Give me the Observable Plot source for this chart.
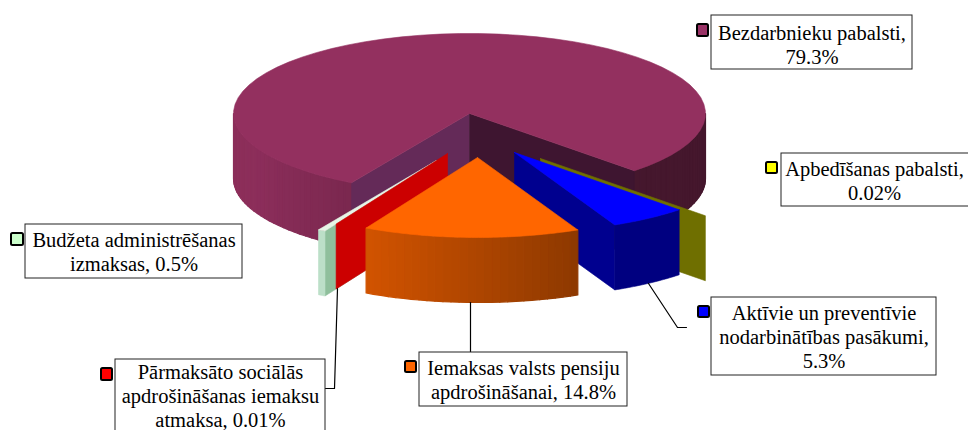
<!DOCTYPE html>
<html><head><meta charset="utf-8">
<script src="https://cdn.jsdelivr.net/npm/d3@7"></script>
<script src="https://cdn.jsdelivr.net/npm/@observablehq/plot@0.6"></script>
<style>html,body{margin:0;padding:0;background:#fff;overflow:hidden}</style>
</head><body><div id="chart"></div>
<script>
// data
const names = ["Bezdarbnieku pabalsti","Apbedīšanas pabalsti","Aktīvie un preventīvie\nnodarbinātības pasākumi","Iemaksas valsts pensiju\napdrošināšanai","Pārmaksāto sociālās\napdrošināšanas iemaksu\natmaksa","Budžeta administrēšanas\nizmaksas"];
const values = [79.3, 0.02, 5.3, 14.8, 0.01, 0.5];
const separators = [",\n", ",\n", ",\n", ", ", ", ", ", "];
const colors = ["#93305f","#808000","#0000ff","#ff6600","#cc0000","#ccffcc"];
const markerColors = ["#993366","#ffff00","#0000ff","#ff6600","#ff0000","#ccffcc"];

// layout
const W = 968, H = 430;
const pieCenter = [469, 113], rx = 236, ry = 80, depth = 65, firstAngle = 210;
const explode = [[0,0],[71,45],[45,39],[8,44],[-22,40],[-33,47]];
const boxes = [[711,912,15,69],[781,972,153,206],[711,936,297,375],[419,627,352,406],[115,325,359,445],[25,242,224,278]];
const boxTextY = [44,180,336,379,395,251];
const markerBoxes = [[697,708,24,36],[766,777,162,173],[698,709,306,317],[405,416,361,372],[101,112,368,380],[11,23,233,245]];
const leaders = [
  [[648,283],[677,327],[686,327]],
  [[470,302],[470,352]],
  [[337,288],[334,388],[325,388]]
];

const rad = d => d * Math.PI / 180;
const arcs = d3.pie().sort(null).startAngle(rad(firstAngle)).endAngle(rad(firstAngle + 360))(values);
const shade = (base, u) => d3.interpolateRgb("#000", base)(Math.min(.95, Math.max(.47, .68 - .3 * u)));
const pos = (i, a, dz = 0) => [pieCenter[0] + explode[i][0] + rx * Math.sin(a), pieCenter[1] + explode[i][1] - ry * Math.cos(a) + dz];
const tip = (i, dz = 0) => [pieCenter[0] + explode[i][0], pieCenter[1] + explode[i][1] + dz];
const poly = (pts, c, sw = .6) => Plot.line([...pts, pts[0]], {x: d => d[0], y: d => d[1], fill: c, stroke: c, strokeWidth: sw, strokeLinejoin: "round"});
const arcPts = (i, a0, a1) => d3.range(0, 61).map(k => pos(i, a0 + (a1 - a0) * k / 60));
const topFace = (i, c) => poly([tip(i), ...arcPts(i, arcs[i].startAngle, arcs[i].endAngle)], c);
const radial = (i, a, c) => poly([tip(i), pos(i, a), pos(i, a, depth), tip(i, depth)], c);
function outer(i, a0, a1, base, fixed) {
  const out = [], n = fixed ? 1 : Math.max(1, Math.ceil(Math.abs(a1 - a0) / rad(2)));
  if (fixed) {
    const c0 = d3.range(0, 31).map(k => pos(i, a0 + (a1 - a0) * k / 30));
    const c1 = d3.range(30, -1, -1).map(k => pos(i, a0 + (a1 - a0) * k / 30, depth));
    return [poly([...c0, ...c1], fixed)];
  }
  for (let k = 0; k < n; k++) {
    const p = a0 + (a1 - a0) * k / n, q = a0 + (a1 - a0) * (k + 1) / n;
    const c = shade(base, Math.sin((p + q) / 2));
    out.push(poly([pos(i, p), pos(i, q), pos(i, q, depth), pos(i, p, depth)], c, 1.2));
  }
  return out;
}

const marks = [];
// main slice (0)
const mainArc = arcs[0];
marks.push(...outer(0, rad(90), mainArc.endAngle - rad(360), colors[0]));
marks.push(...outer(0, rad(270), mainArc.startAngle, colors[0]));
marks.push(radial(0, mainArc.startAngle, "#642a58"));
marks.push(radial(0, mainArc.endAngle, "#3e1530"));
marks.push(topFace(0, colors[0]));
// zero-width olive plane (1)
marks.push(radial(1, arcs[1].startAngle, "#6f6f00"));
// blue (2)
marks.push(radial(2, arcs[2].endAngle, "#00008f"));
marks.push(...outer(2, arcs[2].startAngle, arcs[2].endAngle, colors[2], "#000080"));
marks.push(topFace(2, colors[2]));
// green (5)
marks.push(radial(5, arcs[5].startAngle, "#8fbf9c"));
marks.push(...outer(5, arcs[5].startAngle, arcs[5].endAngle, colors[5], "#bcdfc8"));
marks.push(topFace(5, "#e6f5e6"));
// red plane (4)
marks.push(radial(4, arcs[4].startAngle, colors[4]));
// orange (3)
marks.push(...outer(3, arcs[3].startAngle, arcs[3].endAngle, colors[3]));
marks.push(topFace(3, colors[3]));

// leaders
for (const l of leaders) marks.push(Plot.line(l, {x: d => d[0], y: d => d[1], stroke: "#000", strokeWidth: 1.2}));

// labels
const labels = names.map((n, i) => ({
  text: n + separators[i] + values[i] + "%",
  x1: boxes[i][0], x2: boxes[i][1], y1: boxes[i][2], y2: boxes[i][3],
  cx: (boxes[i][0] + Math.min(boxes[i][1], W - 1)) / 2, cy: boxTextY[i],
  mx1: markerBoxes[i][0], mx2: markerBoxes[i][1], my1: markerBoxes[i][2], my2: markerBoxes[i][3],
  color: markerColors[i]
}));
marks.push(Plot.rect(labels, {x1: "x1", x2: "x2", y1: "y1", y2: "y2", fill: "#fff", stroke: "#222", strokeWidth: 1}));
marks.push(Plot.rect(labels, {x1: "mx1", x2: "mx2", y1: "my1", y2: "my2", fill: "color", stroke: "#000", strokeWidth: 2, rx: 1.5}));
marks.push(Plot.text(labels, {x: "cx", y: "cy", text: "text", fontFamily: "Liberation Serif", fontSize: 20.5, lineHeight: 1.17, fill: "#000", textAnchor: "middle"}));

const chart = Plot.plot({
  width: W, height: H, margin: 0,
  x: {domain: [0, W], range: [0, W], axis: null},
  y: {domain: [0, H], range: [0, H], axis: null},
  color: {type: "identity"},
  style: {background: "#fff"},
  marks
});
document.getElementById("chart").append(chart);
</script>
</body></html>
